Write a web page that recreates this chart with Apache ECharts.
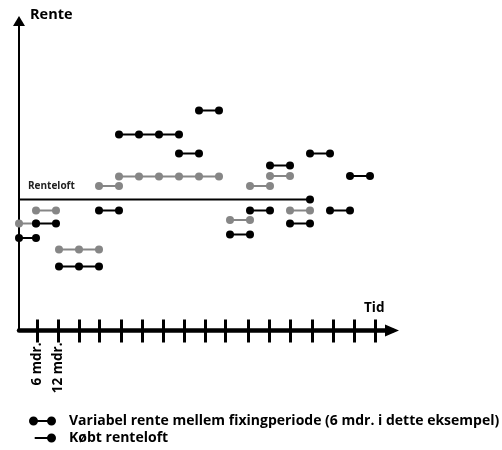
<!DOCTYPE html>
<html>
<head>
<meta charset="utf-8">
<script src="https://cdn.jsdelivr.net/npm/echarts@6/dist/echarts.min.js"></script>
<style>
  html, body { margin: 0; padding: 0; background: #fff; }
  #chart { width: 502px; height: 450px; }
</style>
</head>
<body>
<div id="chart"></div>
<script>
// Time in fixing periods (x) and interest level (y)
const blackSegments = [
  [9.25, [0, 0.85]],
  [10.7, [0.85, 1.85]],
  [6.4, [2, 3, 4]],
  [12.0, [4, 5]],
  [19.6, [5, 6, 7, 8]],
  [17.7, [8, 9]],
  [22.0, [9, 10]],
  [9.6, [10.55, 11.55]],
  [12.0, [11.55, 12.55]],
  [16.5, [12.55, 13.55]],
  [10.7, [13.55, 14.55]],
  [17.7, [14.55, 15.55]],
  [12.0, [15.55, 16.55]],
  [15.45, [16.55, 17.55]]
];
const graySegments = [
  [10.7, [0, 0.85]],
  [12.0, [0.85, 1.85]],
  [8.1, [2, 3, 4]],
  [14.45, [4, 5]],
  [15.4, [5, 6, 7, 8, 9, 10]],
  [11.05, [10.55, 11.55]],
  [14.45, [11.55, 12.55]],
  [15.45, [12.55, 13.55]],
  [12.0, [13.55, 14.55]]
];
const capLevel = 13.1;
const capRange = [0, 14.55];
const tickValues = [0.89, 1.94, 3.0, 4.02, 5.1, 6.17, 7.22, 8.27, 9.3, 10.3, 11.44, 12.52, 13.55, 14.64, 15.69, 16.77, 17.8];
const tickLabels = ['6 mdr.', '12 mdr.'];
const legendNames = ['Variabel rente mellem fixingperiode (6 mdr. i dette eksempel)', 'Købt renteloft'];

const FONT = 'Open Sans';
const BLACK = '#000000';
const GRAY = '#868686';
const labelValues = tickValues.slice(0, tickLabels.length);

const iconDumbbell = 'path://M0,0M35,9M0,4.5A4.5,4.5,0,1,1,9,4.5A4.5,4.5,0,1,1,0,4.5ZM4.5,3.5H22.5V5.5H4.5ZM18,4.5A4.5,4.5,0,1,1,27,4.5A4.5,4.5,0,1,1,18,4.5Z';
const iconCap = 'path://M0,0M35,9M5.7,3.5H22.5V5.5H5.7ZM18,4.5A4.5,4.5,0,1,1,27,4.5A4.5,4.5,0,1,1,18,4.5Z';

function segSeries(seg, color, name) {
  return {
    type: 'line',
    name: name,
    data: seg[1].map(function (x) { return [x, seg[0]]; }),
    symbol: 'circle',
    symbolSize: 8,
    showSymbol: true,
    clip: false,
    color: color,
    itemStyle: { color: color, borderWidth: 0 },
    lineStyle: { color: color, width: 2 },
    emphasis: { disabled: true },
    silent: true,
    z: color === GRAY ? 2 : 3
  };
}

const series = [];
graySegments.forEach(function (s) { series.push(segSeries(s, GRAY, 'Variabel (grå)')); });
blackSegments.forEach(function (s) { series.push(segSeries(s, BLACK, legendNames[0])); });
series.push({
  type: 'line',
  name: legendNames[1],
  data: [{ value: [capRange[0], capLevel], symbol: 'none' }, { value: [capRange[1], capLevel] }],
  symbol: 'circle',
  symbolSize: 8,
  clip: false,
  color: BLACK,
  itemStyle: { color: BLACK, borderWidth: 0 },
  lineStyle: { color: BLACK, width: 2 },
  silent: true,
  z: 3
});

const xMin = 0, xMax = 18.65;
const chart = echarts.init(document.getElementById('chart'), null, { renderer: 'canvas' });
chart.setOption({
  animation: false,
  backgroundColor: '#ffffff',
  title: [
    { text: 'Rente', left: 30, top: 7, padding: 0, textStyle: { fontFamily: FONT, fontSize: 14.5, fontWeight: 'bold', color: BLACK } },
    { text: 'Tid', left: 364, top: 301, padding: 0, textStyle: { fontFamily: FONT, fontSize: 13.5, fontWeight: 'bold', color: BLACK } },
    { text: 'Renteloft', left: 28, top: 181, padding: 0, textStyle: { fontFamily: FONT, fontSize: 10, fontWeight: 'bold', color: '#222' } }
  ],
  legend: {
    orient: 'vertical',
    left: 29,
    top: 413,
    padding: 0,
    itemGap: 1,
    itemWidth: 35,
    itemHeight: 9,
    selectedMode: false,
    itemStyle: { borderWidth: 0 },
    textStyle: { fontFamily: FONT, fontSize: 14, fontWeight: 'bold', color: BLACK, lineHeight: 16 },
    data: [
      { name: legendNames[0], icon: iconDumbbell },
      { name: legendNames[1], icon: iconCap }
    ]
  },
  grid: { left: 19, right: 110, top: 21, bottom: 119.5, containLabel: false },
  xAxis: [
    {
      type: 'value', min: xMin, max: xMax, position: 'bottom',
      axisLine: { show: true, onZero: false, symbol: ['none', 'triangle'], symbolSize: [12, 14], lineStyle: { color: BLACK, width: 4.5 } },
      axisTick: { show: true, customValues: tickValues, inside: false, length: 12, lineStyle: { color: BLACK, width: 3 } },
      axisLabel: {
        show: true, customValues: labelValues, rotate: 90, margin: 12,
        fontFamily: FONT, fontSize: 13.5, fontWeight: 'bold', color: BLACK,
        formatter: function (v) {
          let best = 0;
          labelValues.forEach(function (lv, i) { if (Math.abs(lv - v) < Math.abs(labelValues[best] - v)) best = i; });
          return tickLabels[best];
        }
      },
      splitLine: { show: false }
    },
    {
      type: 'value', min: xMin, max: xMax, position: 'bottom',
      axisLine: { show: false, onZero: false },
      axisTick: { show: true, customValues: tickValues, inside: true, length: 11, lineStyle: { color: BLACK, width: 3 } },
      axisLabel: { show: false },
      splitLine: { show: false }
    }
  ],
  yAxis: {
    type: 'value', min: 0, max: 30.95,
    axisLine: { show: true, onZero: false, symbol: ['none', 'triangle'], symbolSize: [12, 10], lineStyle: { color: BLACK, width: 2 } },
    axisTick: { show: false },
    axisLabel: { show: false },
    splitLine: { show: false }
  },
  series: series
});
</script>
</body>
</html>
